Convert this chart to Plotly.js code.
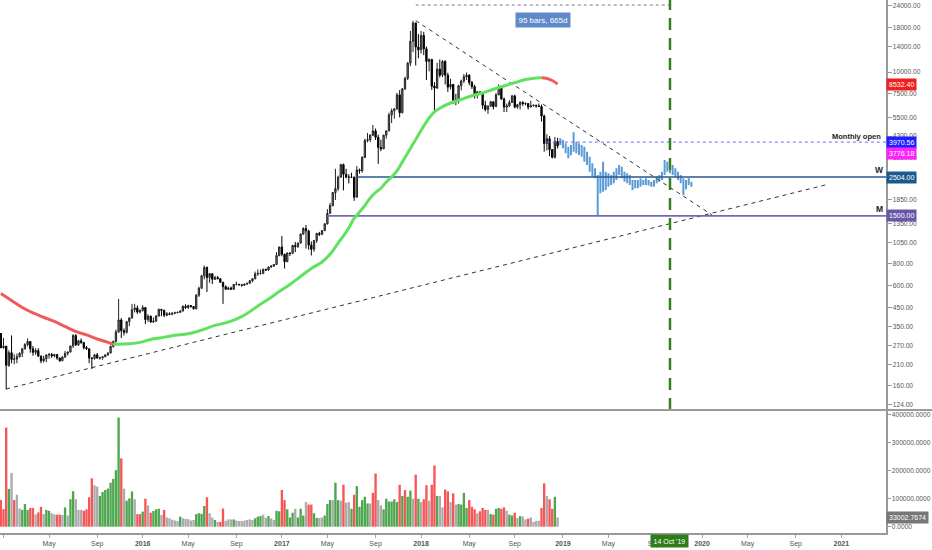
<!DOCTYPE html>
<html><head><meta charset="utf-8">
<script src="https://cdn.plot.ly/plotly-3.0.1.min.js"></script>
<style>html,body{margin:0;padding:0;background:#fff}#chart{width:932px;height:550px}</style>
</head><body><div id="chart"></div>
<script>
// Weekly BTCUSD bars, first bar week of 2014-12-29
const firstWeek = [2014, 11, 29];
const openP = [318,264,269,209,247,226,227,234,245,260,
275,286,260,248,254,236,222,228,240,241,
237,241,230,222,233,245,249,270,310,274,
289,282,264,260,230,229,240,230,231,234,
240,246,268,286,325,380,330,323,372,390,
435,445,422,431,448,382,400,371,375,400,
437,432,405,412,410,416,418,420,428,455,
448,460,454,441,527,578,680,760,665,700,
650,665,655,625,590,570,580,570,607,608,
605,601,610,617,638,655,698,703,703,740,
735,765,775,790,890,995,905,820,920,915,
1015,998,1050,1180,1270,1230,1020,965,1085,1190,
1175,1235,1350,1550,1720,2040,2150,2500,2950,2600,
2500,2500,2500,1920,2750,2720,3240,4050,4100,4350,
4600,4230,3700,3630,4350,4600,5680,6000,6150,7400,
5850,8000,9200,11250,15000,19100,13900,13400,16200,13600,
11500,11800,8300,8100,10400,9600,11500,9600,8200,8500,
6900,6900,8350,8900,9400,9600,8700,8250,7350,7700,
7500,6450,6100,6380,6750,6350,7400,8200,7000,6300,
6400,6700,7300,6300,6500,6700,6600,6600,6300,6400,
6450,6400,6350,5600,3900,4150,3600,3250,4000];
const highP = [320,300,270,255,310,242,244,248,262,280,
298,288,270,262,262,238,237,240,246,246,
243,242,232,236,253,250,270,315,315,292,
298,285,270,261,233,242,246,234,236,241,
248,272,290,335,502,390,340,375,395,470,
470,460,437,462,450,410,402,393,405,442,
440,435,422,420,420,424,425,432,462,468,
465,462,456,535,590,690,780,770,705,705,
680,680,660,628,600,590,590,610,630,612,
608,612,620,642,658,720,740,740,750,750,
770,780,795,930,1000,1150,910,925,925,1025,
1065,1050,1190,1290,1330,1250,1070,1090,1200,1215,
1245,1365,1640,1780,2050,2790,2550,2980,2990,2790,
2600,2650,2520,2900,2800,3300,4150,4480,4400,4980,
4750,4380,4100,4370,4620,5850,6180,6200,7600,7880,
8100,9400,11400,17200,19666,19200,16500,17200,17000,14000,
12000,11900,8750,11300,11800,11700,11700,9900,9150,8500,
7500,8450,9050,9750,9950,9700,8900,8450,7800,7750,
7500,6850,6450,6850,6800,7580,8500,8250,7150,6600,
6900,7400,7420,6570,6800,6800,6700,6650,6850,6520,
6500,6600,6500,5700,4400,4300,3600,4250,4200];
const lowP = [262,260,152,205,215,212,215,232,233,257,
268,247,237,240,234,215,217,218,228,231,
232,225,219,222,231,238,248,263,270,270,
278,258,256,215,199,225,228,225,225,233,
237,245,264,282,320,300,310,318,350,388,
420,412,415,425,360,370,365,365,370,398,
400,395,400,405,405,410,415,418,425,440,
440,447,436,437,515,575,650,550,620,610,
645,650,620,470,565,565,565,565,600,600,
590,595,605,614,625,650,680,690,695,725,
725,755,765,788,880,880,750,815,885,910,
930,985,1040,1170,975,960,890,935,1050,1150,
1165,1230,1340,1550,1700,1850,2080,2480,2100,2460,
2300,2470,1830,1910,2620,2650,3220,3950,3970,4300,
4080,2980,3520,3630,4150,4590,5100,5400,6080,5500,
5800,7900,9000,10800,13000,10900,12000,12750,12500,9000,
10100,7900,6000,8000,9300,9350,8500,7700,7950,6550,
6450,6600,7850,8650,9000,8400,8000,7050,7050,7450,
6150,5950,5750,6300,6100,6300,7370,6950,5900,5900,
6300,6650,6200,6150,6100,6400,6450,6100,6300,6350,
6250,6300,5200,3500,3550,3300,3200,3200,3650];
const closeP = [264,269,209,247,226,227,234,245,260,275,
286,260,248,254,236,222,228,240,241,237,
241,230,222,233,245,249,270,310,274,289,
282,264,260,230,229,240,230,231,234,240,
246,268,286,325,380,330,323,372,390,435,
445,422,431,448,382,400,371,375,400,437,
432,405,412,410,416,418,420,428,455,448,
460,454,441,527,578,680,760,665,700,650,
665,655,625,590,570,580,570,607,608,605,
601,610,617,638,655,698,703,703,740,735,
765,775,790,890,995,905,820,920,915,1015,
998,1050,1180,1270,1230,1020,965,1085,1190,1175,
1235,1350,1550,1720,2040,2150,2500,2950,2600,2500,
2500,2500,1920,2750,2720,3240,4050,4100,4350,4600,
4230,3700,3630,4350,4600,5680,6000,6150,7400,5850,
8000,9200,11250,15000,19100,13900,13400,16200,13600,11500,
11800,8300,8100,10400,9600,11500,9600,8200,8500,6900,
6900,8350,8900,9400,9600,8700,8250,7350,7700,7500,
6450,6100,6380,6750,6350,7400,8200,7000,6300,6400,
6700,7300,6300,6500,6700,6600,6600,6300,6400,6450,
6400,6350,5600,3900,4150,3600,3250,4000,3776.18];
const volume = [95000,63000,354000,135000,192000,95000,114000,65000,60000,81000,
60000,67000,67000,44000,51000,71000,45000,60000,57000,48000,
44000,43000,43000,42000,69000,40000,98000,127000,98000,60000,
60000,57000,62000,105000,173000,148000,143000,110000,124000,131000,
136000,157000,171000,202000,390000,244000,136000,93000,101000,126000,
98000,45000,45000,54000,100000,76000,50000,56000,62000,64000,
42000,60000,33000,30000,25000,22000,20000,36000,30000,28000,
27000,22000,24000,45000,48000,46000,74000,105000,48000,33000,
24000,17000,17000,65000,21000,26000,26000,26000,22000,20000,
20000,22000,24000,26000,24000,30000,36000,38000,43000,32000,
38000,30000,24000,57000,55000,131000,95000,62000,33000,50000,
64000,33000,64000,40000,88000,79000,79000,48000,31000,31000,
33000,40000,81000,95000,95000,157000,95000,93000,150000,86000,
88000,64000,114000,145000,71000,95000,107000,83000,83000,121000,
190000,95000,76000,62000,100000,90000,90000,98000,88000,150000,
110000,131000,107000,129000,100000,186000,100000,88000,98000,148000,
93000,150000,219000,110000,110000,69000,133000,126000,88000,119000,
79000,81000,79000,121000,67000,95000,71000,62000,48000,55000,
67000,60000,60000,45000,43000,64000,67000,64000,69000,57000,
43000,40000,50000,31000,38000,36000,26000,29000,33000,17000,
21000,21000,67000,155000,110000,98000,64000,107000,33002.7674];
const volColor = ("rrrgnrnnggg rrnrrnggnnrrngnggnnnrrrrnnggggggggrnggg nrrgrnrgggnrn" +
  "nnnngnnnnngggg rnngnrrnnngnnnnnnngggnngnngg rrgggnggg nrrggnngggnggnrnngrgggggnrrnn" +
  "gggggg rgrggnrgnrrnrrgnnrrnrnggggrrrnrrrngrggrrngg rngnnrnnnnrrnrrgn").replace(/ /g,'');
// Projected bar pattern (blue), starting the week after the last bar
const projStart = 209;
const projOpen = [3900,4050,3700,3500,3350,3700,3900,3800,3600,3500,3150,3000,2750,2600,2500,2300,2400,2500,2450,2400,2500,2600,2700,2750,2550,2450,2400,2300,2200,2300,2250,2350,2300,2350,2300,2250,2350,2450,2500,2650,2950,2800,2850,2700,2600,2450,2350,2150,2350,2300];
const projHigh = [4174,4082,3906,3738,3821,4516,3993,3906,3821,3738,3499,3276,3001,2809,2573,2689,3068,2689,2630,2573,2689,2809,2935,2872,2689,2630,2573,2409,2409,2409,2463,2409,2463,2409,2357,2409,2517,2573,2689,3135,3068,2935,2935,2809,2689,2573,2463,2409,2463,2357];
const projLow = [3821,3657,3423,3205,3349,3499,3423,3349,3276,3068,2935,2689,2517,2463,1518,2020,2065,2111,2206,2255,2305,2409,2573,2463,2357,2305,2255,2111,2158,2158,2206,2255,2255,2236,2206,2206,2305,2357,2409,2573,2689,2630,2573,2517,2409,2305,1976,2130,2255,2206];
const projClose = [4050,3700,3500,3350,3700,3900,3800,3600,3500,3150,3000,2750,2600,2500,2300,2400,2500,2450,2400,2500,2600,2700,2750,2550,2450,2400,2300,2200,2300,2250,2350,2300,2350,2300,2250,2350,2450,2500,2650,2950,2800,2850,2700,2600,2450,2350,2150,2350,2300,2280];
// Moving average (bar index, value)
const maIdx = [0,4,8,12,16,20,24,28,32,36,40,42,44,48,52,56,60,64,68,72,76,80,84,88,92,96,100,104,108,112,116,120,122,124,126,128,130,132,134,136,138,140,142,144,146,148,150,152,154,156,158,160,162,164,168,172,176,180,184,188,192,196,200,202,204,206,208];
const maVal = [539,491,448,417,394,373,349,327,312,296,283,276,276,278,283,294,301,309,314,322,337,354,366,384,414,457,501,553,607,675,750,817,872,944,1049,1151,1279,1450,1579,1721,1899,2042,2159,2346,2505,2713,3053,3438,3871,4359,4909,5455,5906,6202,6648,6963,7319,7586,7965,8320,8690,9065,9246,9270,9186,8946,8532.4];
const maRiseFrom = 42, maFallFrom = 202;
// Levels and drawings
const monthlyOpen = 3970.56, lastClose = 3776.18, wLevel = 2504, mLevel = 1500, maLast = 8532.40, lastVol = 33002.7674;
const trendDown = {x:['2017-12-18','2020-02-01'], y:[19700,1518]};
const trendUp = {x:['2015-01-12','2020-11-23'], y:[153,2255]};
const markDate = '2019-10-14';
const rangeStart = '2017-12-18';
const xRange = ['2014-12-26 19:00','2021-04-30 22:00'];
const priceTicks = [124,160,210,270,350,450,600,800,1050,1350,1850,2450,3250,4300,5500,7500,10000,14000,18000,24000];
const volTicks = [0,100000,200000,300000,400000];
const dateTicks = ['2015-01-05','2015-05-04','2015-09-07','2016-01-04','2016-05-02','2016-09-05','2017-01-02','2017-05-01','2017-09-04','2018-01-01','2018-05-07','2018-09-03','2019-01-07','2019-05-06','2019-09-02','2020-01-06','2020-05-04','2020-09-07','2021-01-04'];
const dateText = ['<b>2015</b>','May','Sep','<b>2016</b>','May','Sep','<b>2017</b>','May','Sep','<b>2018</b>','May','Sep','<b>2019</b>','May','Sep','<b>2020</b>','May','Sep','<b>2021</b>'];

function weekDate(i){const d=new Date(Date.UTC(firstWeek[0],firstWeek[1],firstWeek[2]));d.setUTCDate(d.getUTCDate()+7*i);return d.toISOString().slice(0,10);}
const dates = openP.map((_,i)=>weekDate(i));
const projDates = projOpen.map((_,k)=>weekDate(projStart+k));
const cmap = {g:'#4ea64e', r:'#f75656', n:'#ababab'};
const vcols = volume.map((_,i)=>cmap[volColor[i]]||'#ababab');
const maDates = maIdx.map(i=>weekDate(i));
const xEnd = xRange[1];

const seg = (a,b)=>({x:maDates.slice(a,b+1), y:maVal.slice(a,b+1)});
const i1 = maIdx.indexOf(maRiseFrom), i2 = maIdx.indexOf(maFallFrom);
const maRed1 = seg(0,i1), maGreen = seg(i1,i2), maRed2 = seg(i2,maIdx.length-1);

const traces = [
 {type:'bar', x:dates, y:volume, marker:{color:vcols, line:{width:0}}, xaxis:'x', yaxis:'y2', hoverinfo:'skip'},
 {type:'scatter', mode:'lines', x:trendUp.x, y:trendUp.y, line:{color:'#333', width:1, dash:'4px,4px'}, hoverinfo:'skip'},
 {type:'scatter', mode:'lines', x:trendDown.x, y:trendDown.y, line:{color:'#333', width:1, dash:'4px,4px'}, hoverinfo:'skip'},
 {type:'scatter', mode:'lines', x:[dates[122], xEnd], y:[mLevel,mLevel], line:{color:'#7469b3', width:1.6}, hoverinfo:'skip'},
 {type:'scatter', mode:'lines', x:[dates[133], xEnd], y:[wLevel,wLevel], line:{color:'#26598a', width:1.6}, hoverinfo:'skip'},
 {type:'scatter', mode:'lines', x:[dates[204], xEnd], y:[monthlyOpen,monthlyOpen], line:{color:'#6a6af5', width:1, dash:'dot'}, hoverinfo:'skip'},
 {type:'scatter', mode:'lines', x:[rangeStart, markDate], y:[24200,24200], line:{color:'#777', width:1, dash:'3px,3px'}, hoverinfo:'skip'},
 {type:'scatter', mode:'lines', x:maRed1.x, y:maRed1.y, line:{color:'#f05a5a', width:3, shape:'spline'}, hoverinfo:'skip'},
 {type:'scatter', mode:'lines', x:maGreen.x, y:maGreen.y, line:{color:'#5fe35f', width:3, shape:'spline'}, hoverinfo:'skip'},
 {type:'scatter', mode:'lines', x:maRed2.x, y:maRed2.y, line:{color:'#f05a5a', width:3, shape:'spline'}, hoverinfo:'skip'},
 {type:'candlestick', x:dates, open:openP, high:highP, low:lowP, close:closeP, xaxis:'x', yaxis:'y',
  increasing:{line:{color:'#222', width:1}, fillcolor:'#8a8a8a'}, decreasing:{line:{color:'#000', width:1}, fillcolor:'#000'}, hoverinfo:'skip'},
 {type:'ohlc', x:projDates, open:projOpen, high:projHigh, low:projLow, close:projClose, xaxis:'x', yaxis:'y', tickwidth:0.25,
  increasing:{line:{color:'#5b9bd5', width:2}}, decreasing:{line:{color:'#5b9bd5', width:2}}, hoverinfo:'skip'},
 {type:'scatter', mode:'lines', x:[markDate, markDate], y:[116,25860], line:{color:'#3b7d23', width:2.5, dash:'12px,8px'}, hoverinfo:'skip'}
];

const H = 533;
const fs = 6.6, lfs = 7;
function plab(val, txt, bg, ysh){return {xref:'paper', x:1, xanchor:'left', yref:'y', y:Math.log10(val), yanchor:'middle', text:txt, showarrow:false, bgcolor:bg, font:{color:'#fff', size:lfs}, borderpad:2, yshift:ysh||0};}
const annotations = [
 plab(maLast, maLast.toFixed(2), '#f01e1e'),
 plab(monthlyOpen, monthlyOpen.toFixed(2), '#1f1fff'),
 plab(lastClose, lastClose.toFixed(2), '#ff22ff', -8),
 plab(wLevel, wLevel.toFixed(2), '#1d5a8e'),
 plab(mLevel, mLevel.toFixed(2), '#6757a8'),
 {xref:'paper', x:1, xanchor:'left', yref:'y2', y:lastVol, yanchor:'middle', text:lastVol.toFixed(4), showarrow:false, bgcolor:'#777', font:{color:'#fff', size:lfs}, borderpad:2},
 {xref:'paper', x:883/886, xanchor:'right', yref:'y', y:Math.log10(monthlyOpen), yanchor:'bottom', yshift:-1, text:'<b>Monthly open</b>', showarrow:false, font:{color:'#222', size:7.5}},
 {xref:'paper', x:879/886, xanchor:'center', yref:'y', y:Math.log10(wLevel), yanchor:'bottom', yshift:0, text:'<b>W</b>', showarrow:false, font:{color:'#222', size:8.5}},
 {xref:'paper', x:879/886, xanchor:'center', yref:'y', y:Math.log10(mLevel), yanchor:'bottom', yshift:0, text:'<b>M</b>', showarrow:false, font:{color:'#222', size:8.5}},
 {xref:'x', x:'2018-11-17', yref:'paper', y:(H-20.5)/H, yanchor:'middle', text:'95 bars, 665d', showarrow:false, bgcolor:'#5f89c8', font:{color:'#fff', size:8}, borderpad:2.5},
 {xref:'x', x:markDate, yref:'paper', y:(H-540.5)/H, yanchor:'middle', text:"14 Oct '19", showarrow:false, bgcolor:'#2e7d1a', font:{color:'#fff', size:7}, borderpad:2.5}
];

const axFont = {family:'"Liberation Sans", Arial, sans-serif', size:fs, color:'#555'};
const volDom = (H-410)/H;
const layout = {
 width:932, height:550, margin:{l:0, r:46, t:0, b:17},
 paper_bgcolor:'#fff', plot_bgcolor:'#fff', showlegend:false, hovermode:false,
 font:{family:'"Liberation Sans", Arial, sans-serif'},
 bargap:0.12,
 xaxis:{type:'date', range:xRange, anchor:'y2', tickvals:dateTicks, ticktext:dateText, tickfont:{family:axFont.family, size:7, color:'#555'}, ticks:'outside', ticklen:3, tickcolor:'#aaa',
   showline:true, linecolor:'#999', linewidth:1.5, showgrid:false, zeroline:false, rangeslider:{visible:false}, fixedrange:true},
 yaxis:{domain:[volDom,1], type:'log', range:[2.0644, 4.4126], side:'right', anchor:'x', tickvals:priceTicks, ticktext:priceTicks.map(v=>v.toFixed(2)),
   tickfont:axFont, ticks:'outside', ticklen:4, tickcolor:'#999', showline:true, linecolor:'#999', linewidth:1.5, showgrid:false, zeroline:false, fixedrange:true},
 yaxis2:{domain:[0,volDom], range:[-22500,416800], side:'right', anchor:'x', tickvals:volTicks, ticktext:volTicks.map(v=>v.toFixed(4)),
   tickfont:axFont, ticks:'outside', ticklen:3, tickcolor:'#999', showline:true, linecolor:'#999', linewidth:1.5, showgrid:false, zeroline:false, fixedrange:true},
 shapes:[{type:'line', xref:'paper', yref:'paper', x0:0, x1:932/886, y0:volDom, y1:volDom, line:{color:'#9a9a9a', width:2}}],
 annotations:annotations
};
Plotly.newPlot('chart', traces, layout, {staticPlot:true, displayModeBar:false});
</script>
</body></html>
